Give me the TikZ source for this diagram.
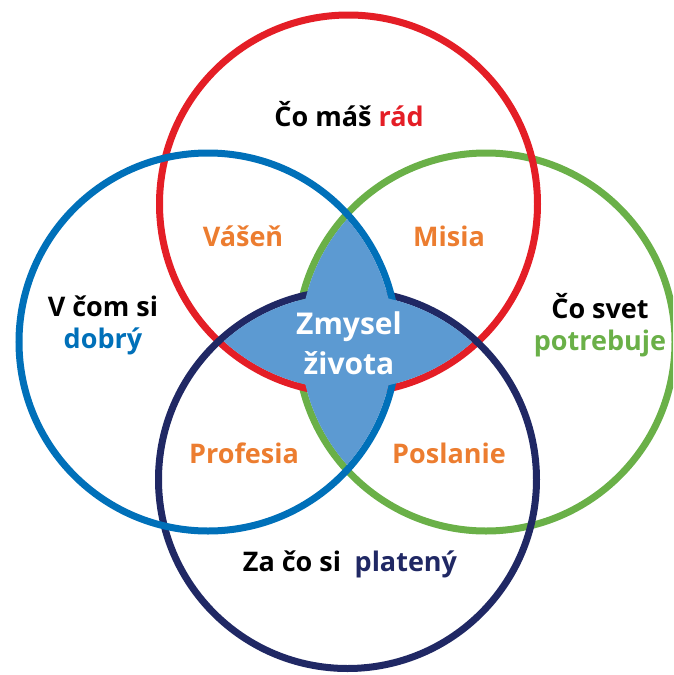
\documentclass[tikz,border=0pt]{standalone}
\usepackage{fontspec}
\setmainfont{Open Sans}
\definecolor{cred}{RGB}{228,30,38}
\definecolor{cblue}{RGB}{0,112,185}
\definecolor{cgreen}{RGB}{106,176,72}
\definecolor{cnavy}{RGB}{32,40,100}
\definecolor{corange}{RGB}{236,125,48}
\definecolor{cfill}{RGB}{92,154,210}
\begin{document}
\begin{tikzpicture}[x=1pt,y=-1pt,
  ring/.style={line width=7pt},
  lbl/.style={font=\fontsize{27}{32}\selectfont\bfseries, align=center, inner sep=0pt},
  olbl/.style={lbl, text=corange}]
\useasboundingbox (0,0) rectangle (673,675);
\clip (0,0) rectangle (673,675);
\coordinate (R) at (348.5,204);
\coordinate (B) at (208,342);
\coordinate (G) at (486,342);
\coordinate (N) at (347.5,479.5);
\def\rr{189}
\def\ri{185.5}
\draw[ring, cgreen] (G) circle (\rr);
\draw[ring, cred] (R) circle (\rr);
\draw[ring, cnavy] (N) circle (\rr);
\draw[ring, cblue] (B) circle (\rr);
% centre fill: union of the two lenses, covering the inner arcs
\begin{scope}
  \clip (B) circle (\ri);
  \fill[cfill] (G) circle (\ri);
\end{scope}
\begin{scope}
  \clip (R) circle (\ri);
  \fill[cfill] (N) circle (\ri);
\end{scope}
% labels
\node[lbl] (top) at (349,114) {Čo máš \textcolor{cred}{rád}};
\node[lbl] (left) at (103,325) {V čom si\\\textcolor{cblue}{dobrý}};
\node[lbl] (right) at (600,325) {Čo svet\\\textcolor{cgreen}{potrebuje}};
\node[lbl] (bottom) at (350,564) {Za čo si\hspace{0.5em}\textcolor{cnavy}{platený}};
\node[olbl] (vasen) at (243,236) {Vášeň};
\node[olbl] (misia) at (449,236) {Misia};
\node[olbl] (prof) at (244,453) {Profesia};
\node[olbl] (posl) at (449,453) {Poslanie};
\node[lbl, text=white, font=\fontsize{30}{40}\selectfont\bfseries] (zmysel) at (349,343) {Zmysel\\života};
\end{tikzpicture}
\end{document}
